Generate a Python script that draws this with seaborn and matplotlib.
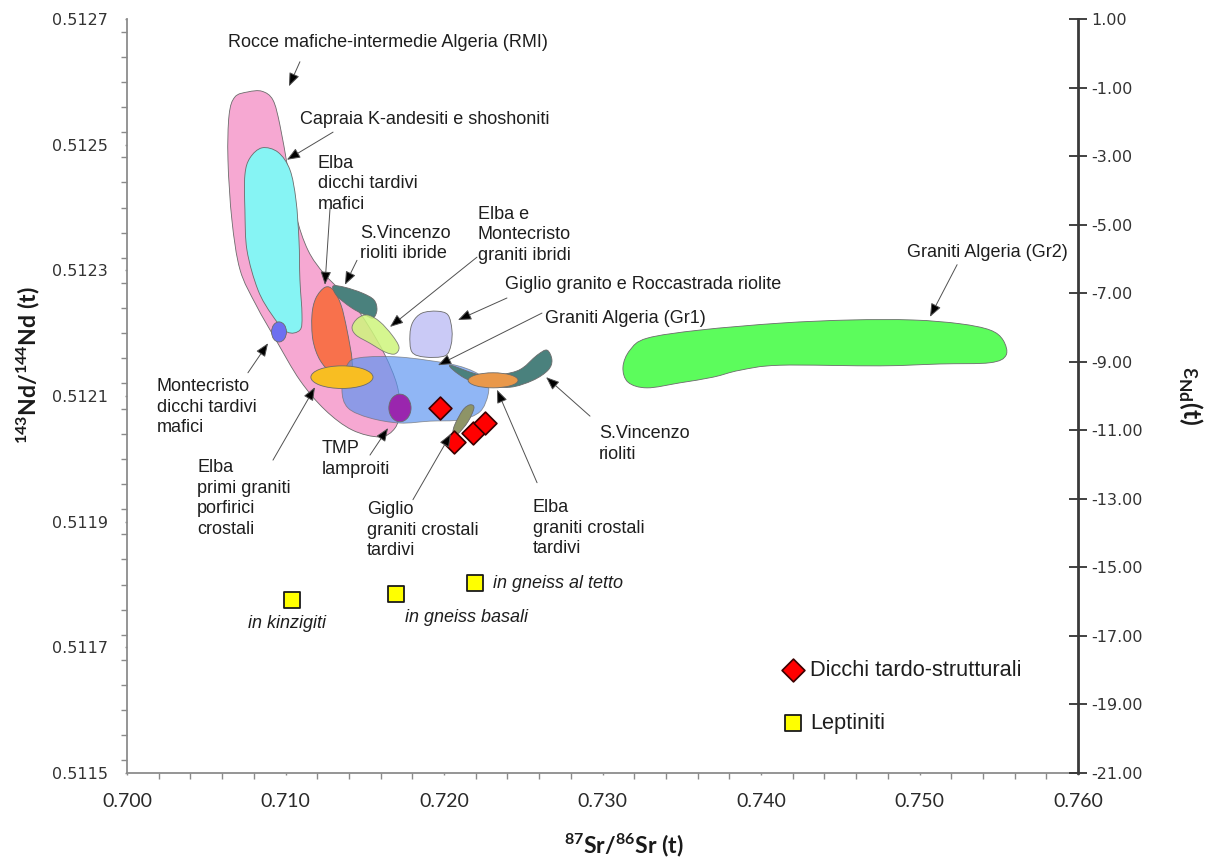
import numpy as np
import matplotlib
matplotlib.use("Agg")
import matplotlib.pyplot as plt
from matplotlib.path import Path
from matplotlib.patches import PathPatch, Ellipse
from matplotlib.ticker import MultipleLocator
from matplotlib.font_manager import FontProperties, findfont
import seaborn as sns

# ---------------------------------------------------------------- data
# Axis ticks
sr_ticks = [0.700, 0.710, 0.720, 0.730, 0.740, 0.750, 0.760]
sr_tick_labels = ["0.700", "0.710", "0.720", "0.730", "0.740", "0.750", "0.760"]
nd_ticks = [0.5115, 0.5117, 0.5119, 0.5121, 0.5123, 0.5125, 0.5127]
nd_tick_labels = ["0.5115", "0.5117", "0.5119", "0.5121", "0.5123", "0.5125", "0.5127"]
eps_ticks = [1, -1, -3, -5, -7, -9, -11, -13, -15, -17, -19, -21]
eps_tick_labels = ["1.00", "-1.00", "-3.00", "-5.00", "-7.00", "-9.00", "-11.00",
                   "-13.00", "-15.00", "-17.00", "-19.00", "-21.00"]

# Outlined fields (87Sr/86Sr, 143Nd/144Nd)
rmi_sr = [0.70644, 0.70681, 0.70763, 0.70852, 0.70921, 0.70965, 0.71016, 0.71066,
          0.71142, 0.71249, 0.71407, 0.71520, 0.71628, 0.71703, 0.71722, 0.71691,
          0.71596, 0.71420, 0.71249, 0.71091, 0.70940, 0.70814, 0.70713, 0.70662,
          0.70637]
rmi_nd = [0.512547, 0.512576, 0.512584, 0.512585, 0.512571, 0.512531, 0.512460,
          0.512388, 0.512332, 0.512293, 0.512253, 0.512213, 0.512165, 0.512118,
          0.512078, 0.512049, 0.512035, 0.512046, 0.512078, 0.512125, 0.512189,
          0.512245, 0.512301, 0.512380, 0.512476]

capraia_sr = [0.70852, 0.70776, 0.70744, 0.70744, 0.70757, 0.70826, 0.70915, 0.71009,
              0.71091, 0.71104, 0.71091, 0.71085, 0.71066, 0.71028, 0.70953]
capraia_nd = [0.512495, 0.512479, 0.512452, 0.512396, 0.512332, 0.512269, 0.512229,
              0.512202, 0.512205, 0.512229, 0.512285, 0.512348, 0.512412, 0.512460,
              0.512488]

elba_mafic_sr = [0.71249, 0.71192, 0.71167, 0.71173, 0.71218, 0.71293, 0.71407,
                 0.71420, 0.71388, 0.71350, 0.71300]
elba_mafic_nd = [0.512273, 0.512256, 0.512229, 0.512189, 0.512157, 0.512138, 0.512135,
                 0.512157, 0.512205, 0.512245, 0.512269]

sv_hybrid_sr = [0.71300, 0.71375, 0.71483, 0.71558, 0.71577, 0.71552, 0.71502,
                0.71438, 0.71375, 0.71319]
sv_hybrid_nd = [0.512275, 0.512273, 0.512264, 0.512253, 0.512237, 0.512224, 0.512229,
                0.512237, 0.512248, 0.512261]

hybrid_granite_sr = [0.71420, 0.71457, 0.71520, 0.71596, 0.71672, 0.71716, 0.71691,
                     0.71628, 0.71533, 0.71445]
hybrid_granite_nd = [0.512210, 0.512224, 0.512229, 0.512218, 0.512197, 0.512178,
                     0.512167, 0.512170, 0.512184, 0.512197]

giglio_rocc_sr = [0.71785, 0.71804, 0.71861, 0.71956, 0.72025, 0.72050, 0.72044,
                  0.72006, 0.71880, 0.71798]
giglio_rocc_nd = [0.512197, 0.512218, 0.512232, 0.512235, 0.512229, 0.512205,
                  0.512181, 0.512164, 0.512162, 0.512170]

gr1_sr = [0.71388, 0.71470, 0.71722, 0.72038, 0.72196, 0.72271, 0.72278, 0.72227,
          0.72101, 0.71912, 0.71722, 0.71533, 0.71394, 0.71356]
gr1_nd = [0.512149, 0.512161, 0.512162, 0.512151, 0.512138, 0.512122, 0.512102,
          0.512075, 0.512062, 0.512060, 0.512057, 0.512065, 0.512081, 0.512110]

sv_rhyolite_sr = [0.72038, 0.72246, 0.72461, 0.72587, 0.72650, 0.72681, 0.72656,
                  0.72561, 0.72416, 0.72246, 0.72120]
sv_rhyolite_nd = [0.512149, 0.512133, 0.512140, 0.512165, 0.512173, 0.512157,
                  0.512141, 0.512125, 0.512114, 0.512118, 0.512130]

giglio_late_sr = [0.72164, 0.72189, 0.72151, 0.72088, 0.72057, 0.72069, 0.72120]
giglio_late_nd = [0.512086, 0.512081, 0.512059, 0.512040, 0.512041, 0.512055, 0.512078]

gr2_sr = [0.73129, 0.73173, 0.73281, 0.73615, 0.74120, 0.74561, 0.74959, 0.75255,
          0.75445, 0.75527, 0.75546, 0.75445, 0.75129, 0.74751, 0.74120, 0.73867,
          0.73697, 0.73489, 0.73281, 0.73161]
gr2_nd = [0.512146, 0.512173, 0.512192, 0.512205, 0.512216, 0.512221, 0.512221,
          0.512215, 0.512205, 0.512189, 0.512165, 0.512153, 0.512151, 0.512148,
          0.512149, 0.512141, 0.512130, 0.512121, 0.512113, 0.512122]

# Elliptical fields: (min, max) ranges
montecristo_sr = (0.70912, 0.71006)
montecristo_nd = (0.512186, 0.512218)
elba_porph_sr = (0.71160, 0.71552)
elba_porph_nd = (0.512112, 0.512148)
tmp_sr = (0.71652, 0.71792)
tmp_nd = (0.512059, 0.512103)
elba_late_sr = (0.72152, 0.72467)
elba_late_nd = (0.512113, 0.512137)

# Samples
dyke_sr = [0.71975, 0.72063, 0.72183, 0.72259]
dyke_nd = [0.512081, 0.512027, 0.512041, 0.512057]
lept_sr = [0.71041, 0.71697, 0.72196]
lept_nd = [0.511775, 0.511785, 0.511802]

field_labels = [
    "Rocce mafiche-intermedie Algeria (RMI)",
    "Capraia K-andesiti e shoshoniti",
    "Elba\ndicchi tardivi\nmafici",
    "S.Vincenzo\nrioliti ibride",
    "Elba e\nMontecristo\ngraniti ibridi",
    "Giglio granito e Roccastrada riolite",
    "Graniti Algeria (Gr1)",
    "Graniti Algeria (Gr2)",
    "Montecristo\ndicchi tardivi\nmafici",
    "Elba\nprimi graniti\nporfirici\ncrostali",
    "TMP\nlamproiti",
    "Giglio\ngraniti crostali\ntardivi",
    "Elba\ngraniti crostali\ntardivi",
    "S.Vincenzo\nrioliti",
]
lept_labels = ["in kinzigiti", "in gneiss basali", "in gneiss al tetto"]

# ---------------------------------------------------------------- style
sns.set_theme(style="white")


def available(name):
    try:
        findfont(FontProperties(family=name), fallback_to_default=False)
        return True
    except Exception:
        return False


AXFONT = "Lato" if available("Lato") else "Liberation Sans"
plt.rcParams["font.family"] = ["Liberation Sans", "DejaVu Sans"]
plt.rcParams["mathtext.fontset"] = "custom"
plt.rcParams["mathtext.rm"] = AXFONT
plt.rcParams["mathtext.bf"] = AXFONT + ":bold"
plt.rcParams["mathtext.it"] = AXFONT + ":italic"
plt.rcParams["mathtext.default"] = "regular"

TEXT = "#1e1e1e"
EDGE = "#6b6b6b"
LABEL_SIZE = 13

fig = plt.figure(figsize=(12.06, 8.61), dpi=100)
ax = fig.add_axes([0.1053, 0.1022, 0.7886, 0.8757])


def smooth_outline(sr, nd):
    """Closed smooth outline through the given vertices (Catmull-Rom as Bezier)."""
    p = np.column_stack([sr, nd])
    n = len(p)
    verts = [p[0]]
    codes = [Path.MOVETO]
    for i in range(n):
        p0, p1, p2, p3 = p[i - 1], p[i], p[(i + 1) % n], p[(i + 2) % n]
        verts += [p1 + (p2 - p0) / 6.0, p2 - (p3 - p1) / 6.0, p2]
        codes += [Path.CURVE4] * 3
    verts.append(p[0])
    codes.append(Path.CLOSEPOLY)
    return Path(np.array(verts), codes)


def field(sr, nd, face, alpha=1.0, z=2):
    ax.add_patch(PathPatch(smooth_outline(sr, nd), facecolor=face, edgecolor=EDGE,
                           lw=0.6, alpha=alpha, zorder=z))


def oval(sr, nd, face, alpha=1.0, z=3):
    ax.add_patch(Ellipse(((sr[0] + sr[1]) / 2, (nd[0] + nd[1]) / 2),
                         sr[1] - sr[0], nd[1] - nd[0], facecolor=face,
                         edgecolor=EDGE, lw=0.6, alpha=alpha, zorder=z))


field(rmi_sr, rmi_nd, "#f6a8d2", z=1.0)
field(capraia_sr, capraia_nd, "#86f4f4", z=1.1)
oval(montecristo_sr, montecristo_nd, "#6d6ff0", z=1.2)
field(elba_mafic_sr, elba_mafic_nd, "#f8714c", z=1.3)
field(sv_hybrid_sr, sv_hybrid_nd, "#4a817d", z=1.4)
field(hybrid_granite_sr, hybrid_granite_nd, "#cef57c", alpha=0.85, z=1.5)
field(giglio_rocc_sr, giglio_rocc_nd, "#cacaf6", z=1.6)
field(gr1_sr, gr1_nd, "#5b94f1", alpha=0.68, z=1.7)
field(sv_rhyolite_sr, sv_rhyolite_nd, "#4a817d", z=1.8)
oval(elba_porph_sr, elba_porph_nd, "#f8be22", z=1.9)
oval(tmp_sr, tmp_nd, "#9a26ae", z=2.0)
oval(elba_late_sr, elba_late_nd, "#e9984a", z=2.1)
field(giglio_late_sr, giglio_late_nd, "#8e9466", z=2.2)
field(gr2_sr, gr2_nd, "#5cfc5c", z=2.3)

sns.scatterplot(x=dyke_sr, y=dyke_nd, marker="D", s=135, color="#ff0000",
                edgecolor="#3c0000", linewidth=1.2, zorder=6,
                label="Dicchi tardo-strutturali", ax=ax)
sns.scatterplot(x=lept_sr, y=lept_nd, marker="s", s=125, color="#ffff00",
                edgecolor="#1a1a1a", linewidth=1.3, zorder=6,
                label="Leptiniti", ax=ax)

# ---------------------------------------------------------------- annotations
label_sr = [0.70637, 0.71091, 0.71205, 0.71470, 0.72214, 0.72385, 0.72637, 0.74921,
            0.70189, 0.70442, 0.71230, 0.71514, 0.72561, 0.72978]
label_nd = [0.512655, 0.512533, 0.512463, 0.512352, 0.512382, 0.512270, 0.512216,
            0.512321, 0.512108, 0.511979, 0.512009, 0.511912, 0.511915, 0.512033]
tail_sr = [0.71091, 0.71300, 0.71281, 0.71451, 0.72208, 0.72397, 0.72618, 0.75237,
           0.70763, 0.70921, 0.71533, 0.71804, 0.72587, 0.72921]
tail_nd = [0.512632, 0.512520, 0.512399, 0.512316, 0.512321, 0.512256, 0.512232,
           0.512309, 0.512137, 0.511998, 0.512006, 0.511935, 0.511962, 0.512068]
tip_sr = [0.71022, 0.71009, 0.71249, 0.71375, 0.71659, 0.72088, 0.71962, 0.75066,
          0.70890, 0.71186, 0.71647, 0.72044, 0.72334, 0.72644]
tip_nd = [0.512593, 0.512476, 0.512277, 0.512277, 0.512210, 0.512221, 0.512149,
          0.512226, 0.512184, 0.512114, 0.512049, 0.512040, 0.512110, 0.512130]

LINE_PT = 14.8  # baseline-to-baseline distance of stacked label lines


def stacked_text(x, y, text, style="normal"):
    for i, line in enumerate(text.split("\n")):
        ax.annotate(line, xy=(x, y), xytext=(0, -i * LINE_PT),
                    textcoords="offset points", ha="left", va="baseline",
                    fontsize=LABEL_SIZE, family="Liberation Sans", style=style,
                    color=TEXT, zorder=7)


for txt, x, y in zip(field_labels, label_sr, label_nd):
    stacked_text(x, y, txt)

for x0, y0, x1, y1 in zip(tail_sr, tail_nd, tip_sr, tip_nd):
    ax.annotate("", xy=(x1, y1), xytext=(x0, y0),
                arrowprops=dict(arrowstyle="-|>,head_length=0.45,head_width=0.18",
                                mutation_scale=18, facecolor="#000000",
                                edgecolor="#505050", lw=0.7, shrinkA=0, shrinkB=0),
                zorder=7)

lept_label_sr = [0.70763, 0.71754, 0.72309]
lept_label_nd = [0.511731, 0.511740, 0.511794]
for txt, x, y in zip(lept_labels, lept_label_sr, lept_label_nd):
    stacked_text(x, y, txt, style="italic")

# ---------------------------------------------------------------- axes
ax.set_xlim(0.700, 0.760)
ax.set_ylim(0.5115, 0.5127)
ax.set_xticks(sr_ticks)
ax.set_xticklabels(sr_tick_labels, fontsize=14, family=AXFONT, color="#2a2a2a")
ax.set_yticks(nd_ticks)
ax.set_yticklabels(nd_tick_labels, fontsize=11.5, family="DejaVu Sans", color="#333333")
ax.xaxis.set_minor_locator(MultipleLocator(0.002))
ax.yaxis.set_minor_locator(MultipleLocator(0.00004))
ax.tick_params(which="both", direction="out", color="#8a8a8a", width=1,
               bottom=True, left=True)
ax.tick_params(which="major", length=1.5)
ax.tick_params(which="minor", length=4.5)
ax.tick_params(axis="x", which="major", pad=13)
ax.tick_params(axis="y", which="major", pad=12)
for side in ("top", "right"):
    ax.spines[side].set_visible(False)
for side in ("left", "bottom"):
    ax.spines[side].set_color("#8c8c8c")
    ax.spines[side].set_linewidth(1.3)

ax.set_xlabel(r"$\mathbf{^{87}Sr/^{86}Sr\ (t)}$", fontsize=16.5, color="#1a1a1a")
ax.set_ylabel(r"$\mathbf{^{143}Nd/^{144}Nd\ (t)}$", fontsize=16.5, color="#1a1a1a")
ax.xaxis.set_label_coords(0.522, -0.0955)
ax.yaxis.set_label_coords(-0.104, 0.541)
ax.xaxis.label.set_va("center")
ax.yaxis.label.set_va("center")

leg = ax.legend(loc="center left", bbox_to_anchor=(0.6694, 0.1008), frameon=False,
                prop=dict(family="Liberation Sans", size=15.7), handlelength=0.9,
                handletextpad=0.32, labelspacing=1.45, borderpad=0.4)
for t in leg.get_texts():
    t.set_color(TEXT)

ax2 = ax.twinx()
ax2.set_ylim(-21, 1)
ax2.set_yticks(eps_ticks)
ax2.set_yticklabels(eps_tick_labels, fontsize=11.5, family="DejaVu Sans", color="#333333")
ax2.tick_params(axis="y", direction="inout", length=13, width=1.3, color="#333333",
                pad=3, right=True)
for side in ("top", "left", "bottom"):
    ax2.spines[side].set_visible(False)
ax2.spines["right"].set_color("#3a3a3a")
ax2.spines["right"].set_linewidth(2)
ax2.set_ylabel(r"$\varepsilon_{\mathbf{Nd}}\mathbf{(t)}$", fontsize=18,
               rotation=270, color="#1a1a1a")
ax2.yaxis.set_label_coords(1.118, 0.5)
ax2.yaxis.label.set_va("center")
ax2.yaxis.label.set_ha("center")

fig.savefig("out.png", dpi=100)
